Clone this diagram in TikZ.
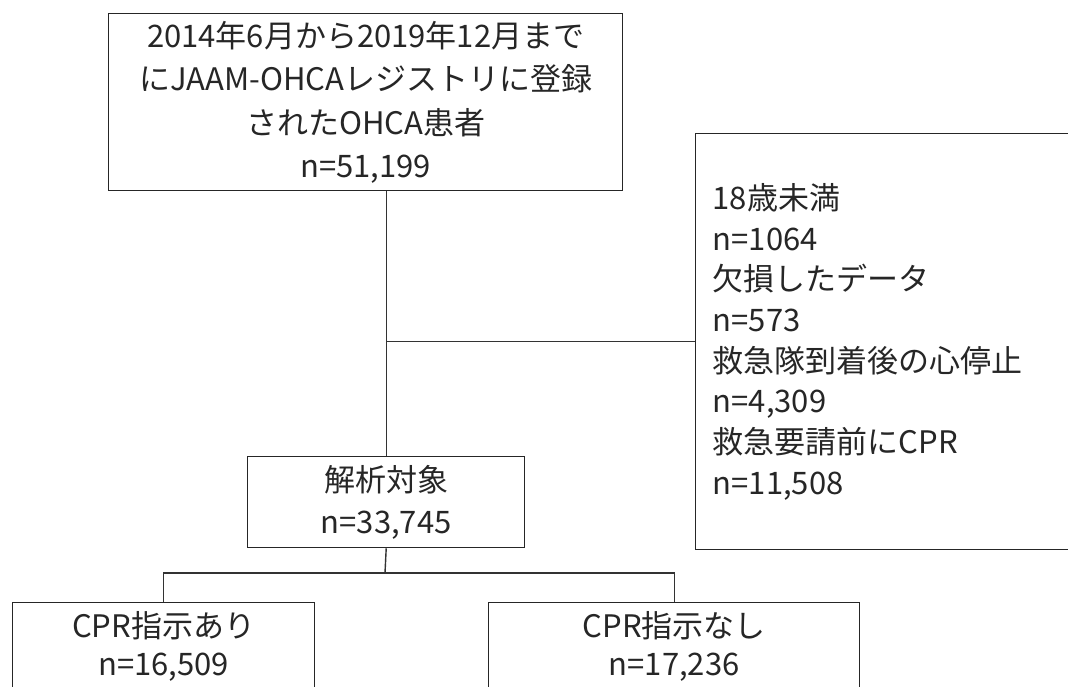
\documentclass[tikz,border=0pt]{standalone}
\usepackage{fontspec}
\setmainfont{Noto Sans CJK JP}
\begin{document}
\begin{tikzpicture}[x=1pt,y=-1pt,
  box/.style={draw=black!85, line width=1.4pt, text=black!85, inner sep=0pt, align=center},
  conn/.style={draw=black!80, line width=1.4pt}]
\useasboundingbox (0,0) rectangle (1068,686);
\clip (0,0) rectangle (1068,686);
\fill[white] (0,0) rectangle (1068,686);

\node[box, minimum width=514pt, minimum height=177pt, anchor=north west,
      font=\fontsize{31}{43.5}\selectfont] (top) at (108,13)
  {2014年6月から2019年12月まで\\にJAAM-OHCAレジストリに登録\\されたOHCA患者\\n=51,199};

\node[box, minimum width=420pt, minimum height=416pt, anchor=north west,
      align=left, text width=386pt, inner xsep=17pt,
      font=\fontsize{31}{40.7}\selectfont] (excl) at (695,133)
  {18歳未満\\n=1064\\欠損したデータ\\n=573\\救急隊到着後の心停止\\n=4,309\\救急要請前にCPR\\n=11,508};

\node[box, minimum width=277pt, minimum height=91pt, anchor=north west,
      font=\fontsize{31}{42}\selectfont] (mid) at (247,456)
  {解析対象\\n=33,745};

\node[box, minimum width=302pt, minimum height=88pt, anchor=north west,
      font=\fontsize{31}{38}\selectfont] (left) at (12,602)
  {CPR指示あり\\n=16,509};

\node[box, minimum width=371pt, minimum height=88pt, anchor=north west,
      font=\fontsize{31}{38}\selectfont] (right) at (488,602)
  {CPR指示なし\\n=17,236};

\coordinate (j1) at (mid.north |- excl.west);
\coordinate (j2) at (385,573);
\draw[conn] (top.south -| mid.north) -- (mid.north);
\draw[conn] (j1) -- (excl.west);
\draw[conn] (mid.south) -- (j2);
\draw[conn] (left.north) -- (left.north |- j2) -- (right.north |- j2) -- (right.north);
\end{tikzpicture}
\end{document}
